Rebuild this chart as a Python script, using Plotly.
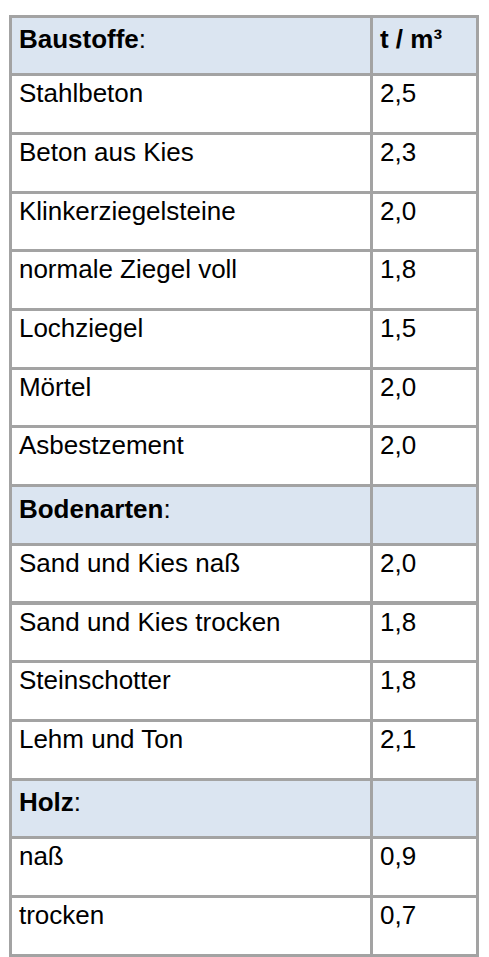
import plotly.graph_objects as go

materials = ["Stahlbeton", "Beton aus Kies", "Klinkerziegelsteine", "normale Ziegel voll",
             "Lochziegel", "Mörtel", "Asbestzement"]
material_vals = ["2,5", "2,3", "2,0", "1,8", "1,5", "2,0", "2,0"]
soils = ["Sand und Kies naß", "Sand und Kies trocken", "Steinschotter", "Lehm und Ton"]
soil_vals = ["2,0", "1,8", "1,8", "2,1"]
woods = ["naß", "trocken"]
wood_vals = ["0,9", "0,7"]

HEAD = "#dbe5f1"
col1, col2, fills = [], [], []
col1 += materials
col2 += material_vals
fills += ["white"] * len(materials)
for title, names, vals in [("Bodenarten", soils, soil_vals), ("Holz", woods, wood_vals)]:
    col1.append(f"<b>{title}</b>:")
    col2.append("")
    fills.append(HEAD)
    col1 += names
    col2 += vals
    fills += ["white"] * len(names)

font = dict(family="Liberation Sans, Arial", size=26, color="black")
fig = go.Figure(go.Table(
    columnwidth=[368, 108],
    header=dict(values=["<b>Baustoffe</b>:", "<b>t / m³</b>"],
                fill_color=HEAD, line=dict(color="#a3a3a3", width=3),
                align="left", height=58.7, font=font),
    cells=dict(values=[col1, col2], fill_color=[fills, fills],
               line=dict(color="#a3a3a3", width=3), align="left", height=58.7,
               font=font),
    domain=dict(x=[0.006, 0.962], y=[0, 1]),
))
fig.update_layout(width=489, height=957, margin=dict(l=0, r=0, t=8, b=0),
                  paper_bgcolor="white")
fig.write_html("out.html")
